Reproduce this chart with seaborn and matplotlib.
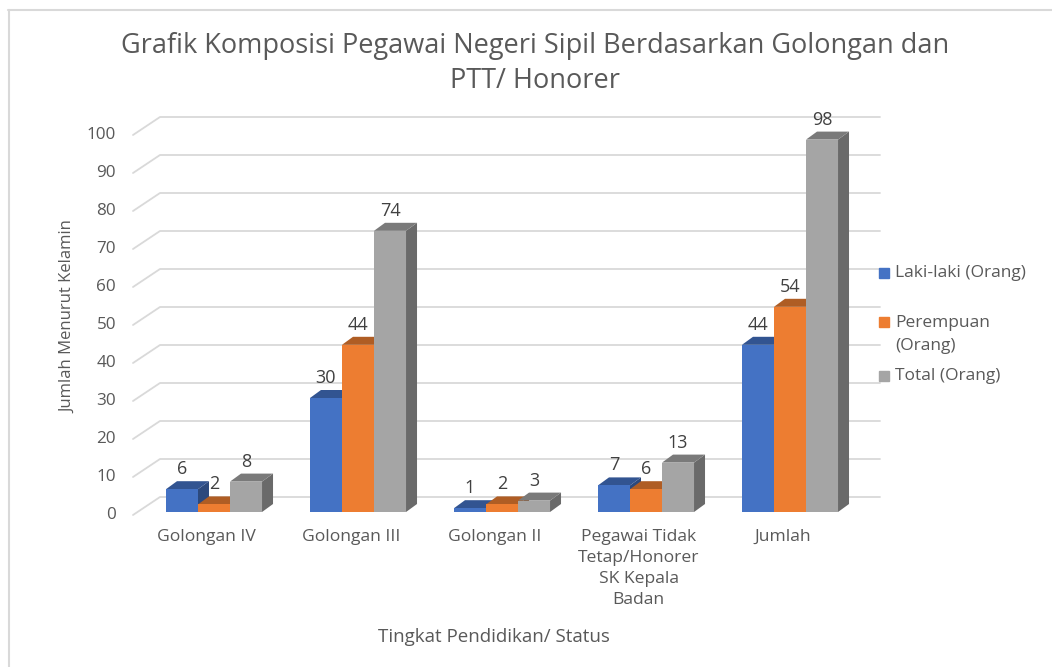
import numpy as np
import pandas as pd
import seaborn as sns
import matplotlib.pyplot as plt
from matplotlib.patches import Polygon, Rectangle
from matplotlib.lines import Line2D
from matplotlib.colors import to_rgb

# data
categories = ["Golongan IV", "Golongan III", "Golongan II",
              "Pegawai Tidak\nTetap/Honorer\nSK Kepala\nBadan", "Jumlah"]
laki = [6, 30, 1, 7, 44]
perempuan = [2, 44, 2, 6, 54]
total = [8, 74, 3, 13, 98]
series = ["Laki-laki (Orang)", "Perempuan (Orang)", "Total (Orang)"]
legend_labels = ["Laki-laki (Orang)", "Perempuan\n(Orang)", "Total (Orang)"]
y_ticks = list(range(0, 101, 10))
colors = ["#4472C4", "#ED7D31", "#A5A5A5"]
txt = "#595959"

df = pd.DataFrame({"Kategori": categories, series[0]: laki,
                   series[1]: perempuan, series[2]: total})
df = df.melt(id_vars="Kategori", var_name="Seri", value_name="Jumlah")

sns.set_theme(style="white")
plt.rcParams['font.family'] = ['Open Sans', 'DejaVu Sans']

W, H = 1052, 667
fig = plt.figure(figsize=(W / 100, H / 100), dpi=100)

def fp(x, y):
    # pixel (from top-left) -> figure fraction
    return (x / W, 1 - y / H)

# bars front plane: x=-0.5 at px 142, 4.5 at 862; y=0 at px 512, 100 at 132
ax = fig.add_axes([142 / W, (H - 512) / H, 720 / W, 380 / H])
sns.barplot(data=df, x="Kategori", y="Jumlah", hue="Seri", order=categories,
            hue_order=series, palette=colors, saturation=1, width=0.667,
            legend=False, ax=ax)
ax.set_xlim(-0.5, 4.5)
ax.set_ylim(0, 100)
ax.patch.set_visible(False)
sns.despine(ax=ax, left=True, bottom=True)
ax.set_yticks([])
ax.set_xticks(np.arange(len(categories)) - 0.05, categories)
ax.tick_params(axis="x", length=0, pad=12, labelsize=12.6, labelcolor=txt)
for lab in ax.get_xticklabels():
    lab.set_linespacing(1.43)
ax.set_xlabel("")
ax.set_ylabel("")

def dp(xd, yd):
    X, Y = ax.transData.transform((xd, yd))
    return X, H - Y

# 3D-like gridlines and y tick labels
for v in y_ticks:
    _, yb = dp(0, v)
    pts = [fp(133, yb + 3), fp(160, yb - 15), fp(880, yb - 15)]
    ax.add_line(Line2D([p[0] for p in pts], [p[1] for p in pts],
                       transform=fig.transFigure, color="#d9d9d9", lw=1.3,
                       zorder=0.5, clip_on=False))
    fig.text(*fp(116, yb + 3), str(v), ha="right", va="center",
             fontsize=12.3, color=txt)

# depth faces for each bar
DX, DY = 11, 8
n = len(categories)
for k, p in enumerate(ax.patches):
    hue_i = k // n
    base = np.array(to_rgb(colors[hue_i]))
    x0, w, h = p.get_x(), p.get_width(), p.get_height()
    xl, yt = dp(x0, h)
    xr, yb = dp(x0 + w, 0)
    p.set_zorder(1.05 + hue_i * 0.1)
    p.set_edgecolor("none")
    side = [fp(xr, yb), fp(xr + DX, yb - DY), fp(xr + DX, yt - DY), fp(xr, yt)]
    top = [fp(xl, yt), fp(xr, yt), fp(xr + DX, yt - DY), fp(xl + DX, yt - DY)]
    ax.add_patch(Polygon(side, closed=True, transform=fig.transFigure,
                         facecolor=base * 0.64, edgecolor="none",
                         zorder=1.0 + hue_i * 0.1, clip_on=False))
    ax.add_patch(Polygon(top, closed=True, transform=fig.transFigure,
                         facecolor=base * 0.74, edgecolor="none",
                         zorder=1.0 + hue_i * 0.1, clip_on=False))
    fig.text(*fp((xl + xr) / 2, yt - DY - 3), f"{int(h)}", ha="center",
             va="bottom", fontsize=13, color="#404040")

# legend drawn by hand to match the wrapped layout
square_rows = [273, 322, 376]
text_rows = [273, 334.5, 376]
for lab, c, ys, yt_ in zip(legend_labels, colors, square_rows, text_rows):
    fig.patches.append(Rectangle(fp(879, ys + 5), 10 / W, 10 / H, color=c,
                                 transform=fig.transFigure, figure=fig))
    fig.text(*fp(895, yt_), lab, ha="left", va="center", fontsize=12.5,
             color=txt, linespacing=1.6)

# titles and axis labels
fig.text(*fp(535, 63.5), "Grafik Komposisi Pegawai Negeri Sipil Berdasarkan Golongan dan\nPTT/ Honorer",
         ha="center", va="center", fontsize=19.5, color=txt, linespacing=1.35)
fig.text(*fp(68, 317), "Jumlah Menurut Kelamin", rotation=90, ha="center",
         va="center", fontsize=12, color=txt)
fig.text(*fp(494, 637), "Tingkat Pendidikan/ Status", ha="center",
         va="center", fontsize=13.5, color=txt)

# chart border (only top and left visible in the crop)
fig.add_artist(Line2D([8 / W, 1], [1 - 10 / H, 1 - 10 / H], color="#d9d9d9",
                      lw=1.5, transform=fig.transFigure))
fig.add_artist(Line2D([9 / W, 9 / W], [1 - 10 / H, 0], color="#d9d9d9",
                      lw=1.5, transform=fig.transFigure))

fig.savefig("out.png", dpi=100)
